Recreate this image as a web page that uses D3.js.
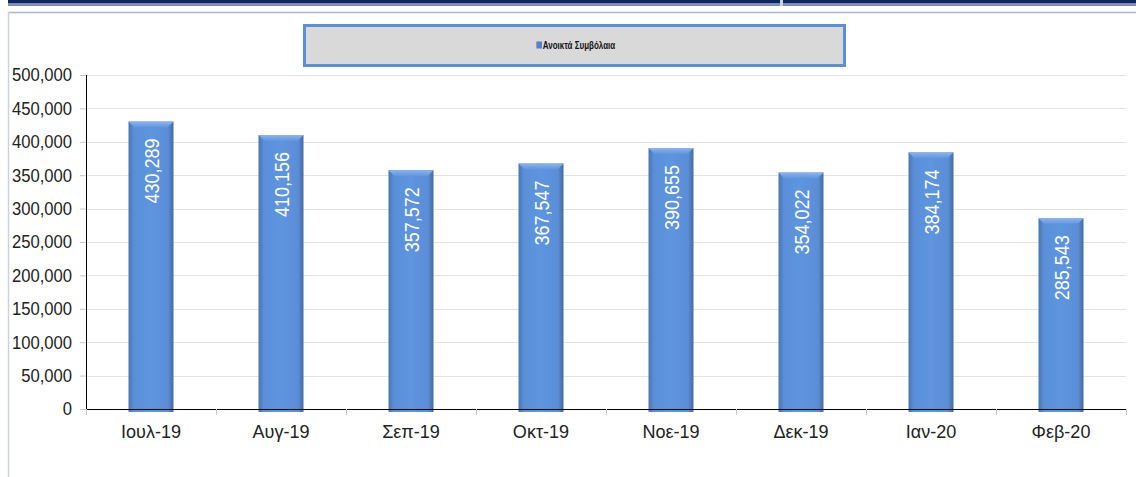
<!DOCTYPE html>
<html>
<head>
<meta charset="utf-8">
<script src="https://cdn.jsdelivr.net/npm/d3@7"></script>
<style>
  body { margin: 0; background: #fff; }
  svg { display: block; }
  text { font-family: "Liberation Sans", Arial, sans-serif; }
</style>
</head>
<body>
<script>
var months = ["Ιουλ-19", "Αυγ-19", "Σεπ-19", "Οκτ-19", "Νοε-19", "Δεκ-19", "Ιαν-20", "Φεβ-20"];
var openContracts = [430289, 410156, 357572, 367547, 390655, 354022, 384174, 285543];
var yTicks = [0, 50000, 100000, 150000, 200000, 250000, 300000, 350000, 400000, 450000, 500000];
var seriesName = "Ανοικτά Συμβόλαια";

var width = 1136, height = 477;
var plotLeft = 86, plotRight = 1126, plotTop = 75, plotBottom = 409;
var narrow = 0.9; // fake a narrow font by squeezing Liberation Sans

var svg = d3.select("body").append("svg")
  .attr("width", width)
  .attr("height", height)

// frame bits around the chart
svg.append("rect").attr("x", 8).attr("y", 0).attr("width", width - 8).attr("height", 3).attr("fill", "#0b2463")
svg.append("rect").attr("x", 8).attr("y", 3).attr("width", width - 8).attr("height", 3).attr("fill", "#7f8fae")
svg.append("rect").attr("x", 780).attr("y", 0).attr("width", 3).attr("height", 6).attr("fill", "#c9d1df")
svg.append("line").attr("x1", 8).attr("x2", width).attr("y1", 12.5).attr("y2", 12.5)
  .attr("stroke", "#a9b7cb").attr("stroke-width", 1.5)
svg.append("line").attr("x1", 8.5).attr("x2", 8.5).attr("y1", 12).attr("y2", height)
  .attr("stroke", "#c9d1e3").attr("stroke-width", 1.5)

// gradients
var defs = svg.append("defs")
var grad = defs.append("linearGradient").attr("id", "barGrad").attr("x1", 0).attr("x2", 1).attr("y1", 0).attr("y2", 0)
grad.append("stop").attr("offset", "0%").attr("stop-color", "#4a74b0")
grad.append("stop").attr("offset", "12%").attr("stop-color", "#5a8fd8")
grad.append("stop").attr("offset", "50%").attr("stop-color", "#5e95e0")
grad.append("stop").attr("offset", "88%").attr("stop-color", "#5a8ed6")
grad.append("stop").attr("offset", "100%").attr("stop-color", "#45689e")

var capGrad = defs.append("linearGradient").attr("id", "capGrad").attr("x1", 0).attr("x2", 0).attr("y1", 0).attr("y2", 1)
capGrad.append("stop").attr("offset", "0%").attr("stop-color", "#8db4ec")
capGrad.append("stop").attr("offset", "100%").attr("stop-color", "#5e95e0")

// legend
svg.append("rect").attr("x", 304.5).attr("y", 25.5).attr("width", 540).attr("height", 40)
  .attr("fill", "#d9d9d9").attr("stroke", "#5b8fd8").attr("stroke-width", 3)
var legendG = svg.append("g").attr("transform", "translate(579,45) scale(0.8,1)")
var legendText = legendG.append("text")
  .attr("x", 0).attr("y", 3.5)
  .attr("text-anchor", "middle")
  .attr("font-size", 10).attr("font-weight", "bold").attr("fill", "#111")
  .text(seriesName)
var tw = legendText.node().getComputedTextLength()
legendG.append("rect").attr("x", -tw / 2 - 8).attr("y", -3.5).attr("width", 7).attr("height", 7).attr("fill", "#5a7fc8")

// scales
var x = d3.scaleBand().domain(months).range([plotLeft, plotRight]).paddingInner(0.654).paddingOuter(0.327)
var y = d3.scaleLinear().domain([0, 500000]).range([plotBottom, plotTop])

// gridlines
svg.append("g").selectAll("line").data(yTicks.slice(1)).enter().append("line")
  .attr("x1", plotLeft).attr("x2", plotRight)
  .attr("y1", function(d) { return Math.round(y(d)) + 0.5 })
  .attr("y2", function(d) { return Math.round(y(d)) + 0.5 })
  .attr("stroke", "#e3e3e3")

// y axis
var yAxis = svg.append("g").attr("transform", "translate(" + plotLeft + ",0)")
  .call(d3.axisLeft(y).tickValues(yTicks).tickSize(6).tickPadding(8).tickFormat(d3.format(",")))
yAxis.select(".domain").remove()
yAxis.selectAll(".tick line").attr("stroke", "#c8c8c8")
yAxis.selectAll(".tick text")
  .attr("font-size", 18.5).attr("fill", "#222").attr("font-family", "'Liberation Sans', Arial, sans-serif")
  .attr("x", -14 / narrow)
  .attr("transform", "scale(" + narrow + ",1)")
svg.append("line").attr("x1", plotLeft + 0.5).attr("x2", plotLeft + 0.5).attr("y1", plotTop).attr("y2", plotBottom)
  .attr("stroke", "#000")

// bars
var bars = svg.append("g").selectAll("g").data(openContracts).enter().append("g")
bars.append("rect")
  .attr("x", function(d, i) { return x(months[i]) })
  .attr("y", function(d) { return y(d) })
  .attr("width", x.bandwidth())
  .attr("height", function(d) { return plotBottom - y(d) + 3 })
  .attr("fill", "url(#barGrad)")
bars.append("path")
  .attr("d", function(d, i) {
    var x0 = x(months[i]), x1 = x0 + x.bandwidth(), t = y(d)
    return "M" + x0 + "," + t + "L" + x1 + "," + t + "L" + (x1 - 6) + "," + (t + 6) + "L" + (x0 + 6) + "," + (t + 6) + "Z"
  })
  .attr("fill", "url(#capGrad)")
bars.append("text")
  .attr("transform", function(d, i) {
    return "translate(" + (x(months[i]) + x.bandwidth() / 2 + 8) + "," + (y(d) + 17) + ") rotate(-90) scale(" + narrow + ",1)"
  })
  .attr("text-anchor", "end")
  .attr("font-size", 20).attr("fill", "#fff")
  .text(function(d) { return d3.format(",")(d) })

// x axis
var xAxis = svg.append("g").attr("transform", "translate(0," + plotBottom + ")")
  .call(d3.axisBottom(x).tickSize(0).tickPadding(16))
xAxis.select(".domain").remove()
xAxis.selectAll(".tick text")
  .attr("font-size", 19).attr("fill", "#222").attr("font-family", "'Liberation Sans', Arial, sans-serif")
  .attr("transform", "scale(0.95,1)")
svg.append("line").attr("x1", plotLeft).attr("x2", plotRight).attr("y1", plotBottom + 0.5).attr("y2", plotBottom + 0.5)
  .attr("stroke", "#000")
var step = (plotRight - plotLeft) / months.length
svg.append("g").selectAll("line").data(d3.range(months.length + 1)).enter().append("line")
  .attr("x1", function(i) { return Math.round(plotLeft + i * step) + 0.5 })
  .attr("x2", function(i) { return Math.round(plotLeft + i * step) + 0.5 })
  .attr("y1", plotBottom).attr("y2", plotBottom + 6)
  .attr("stroke", "#c8c8c8")
</script>
</body>
</html>
